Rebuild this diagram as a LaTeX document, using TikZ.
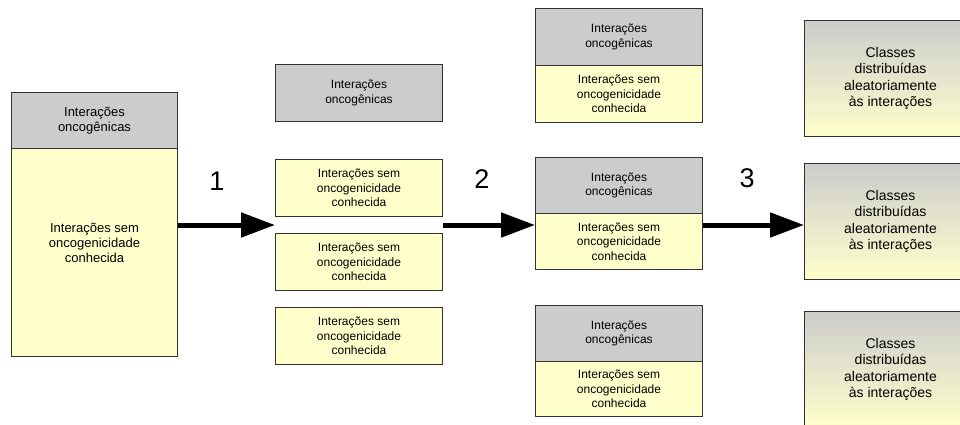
\documentclass[tikz,border=0pt]{standalone}
\usepackage{fontspec}
\setmainfont{Liberation Sans}
\usetikzlibrary{arrows.meta,calc}

\definecolor{boxgray}{RGB}{204,204,204}
\definecolor{boxyellow}{RGB}{255,255,204}
\definecolor{boxline}{RGB}{50,50,50}

\tikzset{
  box/.style={draw=boxline, line width=1pt, rectangle, anchor=north west,
    inner sep=0pt, align=center, minimum width=167pt},
  graybox/.style={box, fill=boxgray, font=\fontsize{12}{14.5}\selectfont},
  yellowbox/.style={box, fill=boxyellow, font=\fontsize{12}{14.5}\selectfont},
  classbox/.style={box, top color=boxgray, bottom color=boxyellow,
    minimum width=172pt, minimum height=116pt, font=\fontsize{14}{16.5}\selectfont},
  bigarrow/.style={line width=5pt, -{Triangle[length=34pt,width=24pt]}},
  stepnum/.style={font=\fontsize{27}{27}\selectfont}
}

\begin{document}
\begin{tikzpicture}[x=1pt,y=-1pt]
        \useasboundingbox (0,0) rectangle (960,424);

        \node[graybox, minimum width=166pt, minimum height=56pt, font=\fontsize{13}{15}\selectfont] (g1) at (11,92) {Interações\\oncogênicas};
        \node[yellowbox, minimum width=166pt, minimum height=208pt, font=\fontsize{13}{15}\selectfont] (y1) at (11,148) {Interações sem\\oncogenicidade\\conhecida\\[5pt]\mbox{}};

        \node[graybox, minimum height=57pt] (g2) at (275,64) {Interações\\oncogênicas};
        \node[yellowbox, minimum height=57pt] (y2a) at (275,159) {Interações sem\\oncogenicidade\\conhecida};
        \node[yellowbox, minimum height=57pt] (y2b) at (275,233) {Interações sem\\oncogenicidade\\conhecida};
        \node[yellowbox, minimum height=57pt] (y2c) at (275,307) {Interações sem\\oncogenicidade\\conhecida};

        \node[graybox, minimum height=57pt] (g3a) at (535,8) {Interações\\oncogênicas};
        \node[yellowbox, minimum height=57pt] (y3a) at (535,65) {Interações sem\\oncogenicidade\\conhecida};
        \node[graybox, minimum height=56pt] (g3b) at (535,157) {Interações\\oncogênicas};
        \node[yellowbox, minimum height=56pt] (y3b) at (535,213) {Interações sem\\oncogenicidade\\conhecida};
        \node[graybox, minimum height=56pt] (g3c) at (535,305) {Interações\\oncogênicas};
        \node[yellowbox, minimum height=55pt] (y3c) at (535,361) {Interações sem\\oncogenicidade\\conhecida};

        \node[classbox] (c4a) at (804,20) {Classes\\distribuídas\\aleatoriamente\\às interações};
        \node[classbox] (c4b) at (804,163) {Classes\\distribuídas\\aleatoriamente\\às interações};
        \node[classbox] (c4c) at (804,311) {Classes\\distribuídas\\aleatoriamente\\às interações};

        \coordinate (in2) at ($(y2a.south west)!0.5!(y2b.north west)$);
        \coordinate (out2) at ($(y2a.south east)!0.5!(y2b.north east)$);

        \draw[bigarrow] (y1.east |- in2) -- (in2);
        \draw[bigarrow] (out2) -- (y3b.west |- out2);
        \draw[bigarrow] (y3b.east |- out2) -- (c4b.west |- out2);

        \node[stepnum] (n1) at (217,181) {1};
        \node[stepnum] (n2) at (482,179) {2};
        \node[stepnum] (n3) at (747,178) {3};
      \end{tikzpicture}
\end{document}
